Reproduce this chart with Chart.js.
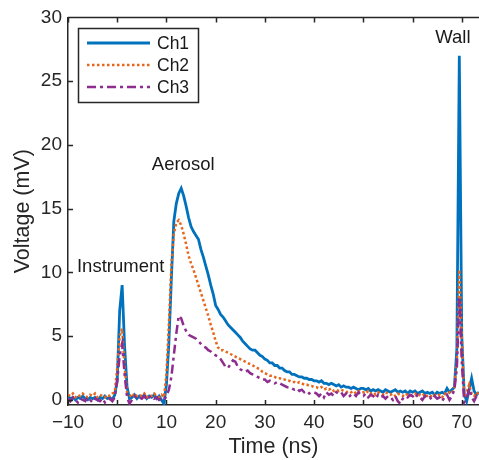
<!DOCTYPE html>
<html>
<head>
<meta charset="utf-8">
<script src="https://cdn.jsdelivr.net/npm/chart.js@4/dist/chart.umd.min.js"></script>
<style>
  html, body { margin: 0; padding: 0; background: #fff; }
  #wrap { width: 479px; height: 460px; }
</style>
</head>
<body>
<div id="wrap"><canvas id="scope" width="479" height="460"></canvas></div>
<script>
// Oscilloscope trace, three channels, time in ns, voltage in mV

var TIME = [
  -10, -9.5, -9, -8.5, -8, -7.5, -7, -6.5, -6, -5.5,
  -5, -4.5, -4, -3.5, -3, -2.5, -2, -1.5, -1, -0.5,
  0, 0.5, 1, 1.5, 2, 2.5, 3, 3.5, 4, 4.5,
  5, 5.5, 6, 6.5, 7, 7.5, 8, 8.5, 9, 9.5,
  10, 10.5, 11, 11.5, 12, 12.5, 13, 13.5, 14, 14.5,
  15, 15.5, 16, 16.5, 17, 17.5, 18, 18.5, 19, 19.5,
  20, 20.5, 21, 21.5, 22, 22.5, 23, 23.5, 24, 24.5,
  25, 25.5, 26, 26.5, 27, 27.5, 28, 28.5, 29, 29.5,
  30, 30.5, 31, 31.5, 32, 32.5, 33, 33.5, 34, 34.5,
  35, 35.5, 36, 36.5, 37, 37.5, 38, 38.5, 39, 39.5,
  40, 40.5, 41, 41.5, 42, 42.5, 43, 43.5, 44, 44.5,
  45, 45.5, 46, 46.5, 47, 47.5, 48, 48.5, 49, 49.5,
  50, 50.5, 51, 51.5, 52, 52.5, 53, 53.5, 54, 54.5,
  55, 55.5, 56, 56.5, 57, 57.5, 58, 58.5, 59, 59.5,
  60, 60.5, 61, 61.5, 62, 62.5, 63, 63.5, 64, 64.5,
  65, 65.5, 66, 66.5, 67, 67.5, 68, 68.5, 69, 69.5,
  70, 70.5, 71, 71.5, 72, 72.5, 73, 73.5
];

var CH1 = [
  0.3, 0.1, 0.2, 0.0, 0.2, 0.1, 0.3, 0.1, 0.0, 0.2,
  0.1, 0.2, 0.0, 0.2, 0.1, 0.3, 0.1, 0.2, 0.0, 0.4,
  1.5, 7.0, 9.0, 4.2, 1.0, 0.1, 0.2, 0.4, 0.1, 0.3,
  0.2, 0.4, 0.1, 0.3, 0.2, 0.4, 0.1, 0.3, 0.0, -0.3,
  1.2, 4.5, 9.5, 14.0, 15.4, 16.2, 16.6, 16.0, 15.2, 14.3,
  13.6, 13.2, 12.9, 12.6, 11.8, 11.2, 10.5, 9.8, 9.0, 8.3,
  7.4, 7.1, 6.7, 6.5, 6.2, 5.9, 5.7, 5.5, 5.3, 5.1,
  4.9, 4.6, 4.4, 4.2, 4.0, 3.9, 3.9, 3.7, 3.5, 3.4,
  3.2, 3.1, 2.9, 2.9, 2.7, 2.7, 2.5, 2.5, 2.3, 2.2,
  2.2, 2.0, 2.0, 1.9, 1.8, 1.8, 1.7, 1.7, 1.6, 1.6,
  1.5, 1.5, 1.4, 1.5, 1.3, 1.3, 1.2, 1.3, 1.2, 1.1,
  1.2, 1.0, 1.1, 1.0, 1.0, 0.9, 1.0, 0.9, 0.8, 0.9,
  0.9, 0.8, 0.9, 0.7, 0.8, 0.7, 0.8, 0.7, 0.6, 0.8,
  0.7, 0.6, 0.7, 0.8, 0.6, 0.7, 0.6, 0.7, 0.5, 0.7,
  0.6, 0.7, 0.5, 0.6, 0.7, 0.5, 0.6, 0.5, 0.6, 0.4,
  0.6, 0.5, 0.6, 0.5, 0.9, 0.6, 0.8, 1.0, 4.0, 27.0,
  5.0, 0.5, -0.1, 0.8, 1.7, 0.7, 0.4, 0.6
];

var CH2 = [
  0.4, 0.3, 0.5, 0.2, 0.4, 0.3, 0.5, 0.3, 0.2, 0.4,
  0.3, 0.5, 0.2, 0.4, 0.3, 0.2, 0.4, 0.3, 0.5, 0.6,
  2.5, 5.0, 5.6, 2.6, 0.6, 0.4, 0.2, 0.5, 0.3, 0.4,
  0.3, 0.5, 0.2, 0.4, 0.3, 0.5, 0.3, 0.2, 0.4, 0.2,
  2.0, 6.0, 10.5, 13.0, 13.9, 14.1, 13.7, 13.0, 12.2, 11.3,
  10.7, 10.2, 9.6, 9.0, 8.4, 7.8, 7.2, 6.6, 5.9, 5.3,
  4.6, 4.1, 3.9, 3.9, 3.8, 3.7, 3.6, 3.5, 3.4, 3.3,
  3.2, 3.1, 3.0, 2.9, 2.8, 2.7, 2.6, 2.5, 2.4, 2.2,
  2.1, 2.0, 1.9, 1.9, 1.8, 1.7, 1.7, 1.6, 1.6, 1.5,
  1.5, 1.4, 1.4, 1.3, 1.4, 1.3, 1.2, 1.2, 1.1, 1.1,
  1.0, 1.0, 0.9, 1.0, 0.8, 0.9, 0.8, 0.9, 0.7, 0.8,
  0.7, 0.8, 0.7, 0.6, 0.7, 0.6, 0.7, 0.5, 0.7, 0.6,
  0.6, 0.5, 0.7, 0.5, 0.6, 0.4, 0.6, 0.5, 0.4, 0.6,
  0.5, 0.4, 0.5, 0.3, 0.5, 0.4, 0.3, 0.5, 0.4, 0.3,
  0.4, 0.5, 0.3, 0.4, 0.3, 0.5, 0.3, 0.4, 0.2, 0.4,
  0.3, 0.4, 0.2, 0.5, 0.4, 0.6, 0.5, 1.0, 3.0, 10.2,
  5.0, 0.3, 0.6, 1.2, 0.5, 0.3, 0.6, 0.4
];

var CH3 = [
  0.1, -0.1, 0.2, 0.0, -0.2, 0.1, 0.0, -0.1, 0.2, 0.0,
  -0.2, 0.1, 0.0, -0.1, 0.1, -0.2, 0.0, 0.1, -0.1, 0.2,
  1.5, 3.5, 4.4, 2.0, 0.2, -0.3, 0.0, 0.3, 0.1, 0.2,
  0.1, 0.3, 0.0, 0.2, 0.3, 0.1, 0.2, 0.0, 0.1, 0.0,
  0.3, 0.8, 1.8, 3.5, 5.2, 6.6, 6.4, 5.8, 5.4, 5.1,
  5.0, 4.9, 4.8, 4.6, 4.4, 4.2, 4.1, 3.9, 3.8, 3.6,
  3.5, 3.4, 3.2, 2.9, 2.6, 2.5, 2.8, 3.1, 3.0, 2.6,
  2.4, 2.3, 2.2, 2.3, 2.1, 2.0, 1.9, 1.8, 1.7, 1.6,
  1.6, 1.4, 1.5, 1.4, 1.3, 1.4, 1.3, 1.2, 1.1, 1.0,
  1.0, 0.9, 0.8, 0.9, 0.7, 0.8, 0.6, 0.7, 0.5, 0.6,
  0.6, 0.5, 0.3, 0.5, 0.2, 0.6, 0.4, 0.5, 0.3, 0.6,
  0.5, 0.6, 0.3, 0.5, 0.2, 0.4, 0.5, 0.3, 0.6, 0.4,
  0.3, 0.5, 0.2, 0.4, 0.3, 0.1, 0.4, 0.2, 0.3, 0.1,
  0.3, 0.2, 0.0, 0.3, -0.1, -0.3, 0.1, 0.3, 0.2, 0.4,
  0.3, 0.1, 0.4, 0.2, 0.0, 0.3, 0.1, 0.2, 0.0, 0.3,
  0.1, 0.2, -0.1, 0.2, 0.4, 0.0, 0.3, 0.8, 2.5, 8.0,
  3.0, -0.2, 0.1, 0.9, 0.2, -0.1, 0.3, 0.2
];

var SERIES_NAMES = ['Ch1', 'Ch2', 'Ch3'];
var X_TICKS = [-10, 0, 10, 20, 30, 40, 50, 60, 70];
var Y_TICKS = [0, 5, 10, 15, 20, 25, 30];

// peak labels, placed in data coordinates (ns, mV)
var PEAK_LABELS = ['Instrument', 'Aerosol', 'Wall'];
var PEAK_LABEL_T = [0.7, 13.4, 68.2];
var PEAK_LABEL_V = [10.4, 18.4, 28.4];

var FONT = "'Liberation Sans', Arial, Helvetica, sans-serif";
var AXIS_COLOR = '#262626';

function toPoints(values) {
  return values.map(function (v, i) { return { x: TIME[i], y: v }; });
}

function fmtTick(v) {
  return v < 0 ? '\u2212' + Math.abs(v) : String(v);
}

// ── MATLAB-style box: top edge, inward ticks, legend, peak labels ──

var boxPlugin = {
  id: 'matlabBox',
  afterDraw: function (chart) {
    var ctx = chart.ctx;
    var a = chart.chartArea;
    var xs = chart.scales.x;
    var ys = chart.scales.y;

    ctx.save();
    ctx.strokeStyle = AXIS_COLOR;
    ctx.lineWidth = 1.5;
    ctx.beginPath();
    ctx.moveTo(a.left, a.top);
    ctx.lineTo(a.right + 2, a.top);
    X_TICKS.forEach(function (v) {
      var px = Math.round(xs.getPixelForValue(v)) + 0.5;
      ctx.moveTo(px, a.bottom);
      ctx.lineTo(px, a.bottom - 5);
      ctx.moveTo(px, a.top);
      ctx.lineTo(px, a.top + 5);
    });
    Y_TICKS.forEach(function (v) {
      var py = Math.round(ys.getPixelForValue(v)) + 0.5;
      ctx.moveTo(a.left, py);
      ctx.lineTo(a.left + 5, py);
    });
    ctx.stroke();

    // peak labels
    ctx.fillStyle = '#1a1a1a';
    ctx.font = '18.5px ' + FONT;
    ctx.textAlign = 'center';
    ctx.textBaseline = 'middle';
    for (var i = 0; i < PEAK_LABELS.length; i++) {
      ctx.fillText(PEAK_LABELS[i], xs.getPixelForValue(PEAK_LABEL_T[i]), ys.getPixelForValue(PEAK_LABEL_V[i]));
    }

    // legend box
    var bx = 78.5, by = 28.5, bw = 120, bh = 74;
    ctx.fillStyle = '#fff';
    ctx.fillRect(bx, by, bw, bh);
    ctx.strokeStyle = AXIS_COLOR;
    ctx.lineWidth = 1.5;
    ctx.strokeRect(bx, by, bw, bh);
    ctx.font = '17.5px ' + FONT;
    ctx.textAlign = 'left';
    ctx.textBaseline = 'middle';
    chart.data.datasets.forEach(function (ds, k) {
      var ry = 43 + k * 22;
      ctx.save();
      ctx.strokeStyle = ds.borderColor;
      ctx.lineWidth = ds.borderWidth;
      ctx.setLineDash(ds.borderDash || []);
      ctx.beginPath();
      ctx.moveTo(87, ry);
      ctx.lineTo(150, ry);
      ctx.stroke();
      ctx.restore();
      ctx.fillStyle = '#1a1a1a';
      ctx.fillText(ds.label, 157, ry + 1);
    });
    ctx.restore();
  }
};

Chart.defaults.font.family = FONT;
Chart.defaults.color = AXIS_COLOR;

var ctx = document.getElementById('scope').getContext('2d');

new Chart(ctx, {
  type: 'line',
  data: {
    datasets: [
      {
        label: SERIES_NAMES[0],
        data: toPoints(CH1),
        borderColor: '#0072BD',
        borderWidth: 2.8,
        pointRadius: 0,
        tension: 0,
        order: 2,
      },
      {
        label: SERIES_NAMES[1],
        data: toPoints(CH2),
        borderColor: '#E8651C',
        borderWidth: 2.5,
        borderDash: [2.5, 2.5],
        pointRadius: 0,
        tension: 0,
        order: 1,
      },
      {
        label: SERIES_NAMES[2],
        data: toPoints(CH3),
        borderColor: '#8E2C8F',
        borderWidth: 2.5,
        borderDash: [9, 4, 3, 4],
        pointRadius: 0,
        tension: 0,
        order: 0,
      },
    ],
  },
  options: {
    responsive: false,
    animation: false,
    events: [],
    layout: { padding: { top: 17, right: 0, left: 0, bottom: 0 } },
    plugins: {
      legend: { display: false },
      tooltip: { enabled: false },
    },
    scales: {
      x: {
        type: 'linear',
        min: -10,
        max: 73.5,
        afterBuildTicks: function (scale) {
          scale.ticks = X_TICKS.map(function (v) { return { value: v }; });
        },
        afterFit: function (scale) { scale.height = 55; },
        ticks: {
          color: AXIS_COLOR,
          font: { size: 19 },
          padding: 6,
          maxRotation: 0,
          callback: function (v) { return fmtTick(v); },
        },
        grid: { drawOnChartArea: false, drawTicks: false },
        border: { display: true, color: AXIS_COLOR, width: 1.5 },
        title: {
          display: true,
          text: 'Time (ns)',
          color: AXIS_COLOR,
          font: { size: 21.5 },
          padding: { top: 0, bottom: 0 },
        },
      },
      y: {
        min: -0.4,
        max: 30,
        afterBuildTicks: function (scale) {
          scale.ticks = Y_TICKS.map(function (v) { return { value: v }; });
        },
        afterFit: function (scale) { scale.width = 68; },
        ticks: {
          color: AXIS_COLOR,
          font: { size: 19 },
          padding: 6,
          callback: function (v) { return fmtTick(v); },
        },
        grid: { drawOnChartArea: false, drawTicks: false },
        border: { display: true, color: AXIS_COLOR, width: 1.5 },
        title: {
          display: true,
          text: 'Voltage (mV)',
          color: AXIS_COLOR,
          font: { size: 21.5 },
          padding: { top: 10, bottom: 0 },
        },
      },
    },
  },
  plugins: [boxPlugin],
});
</script>
</body>
</html>
